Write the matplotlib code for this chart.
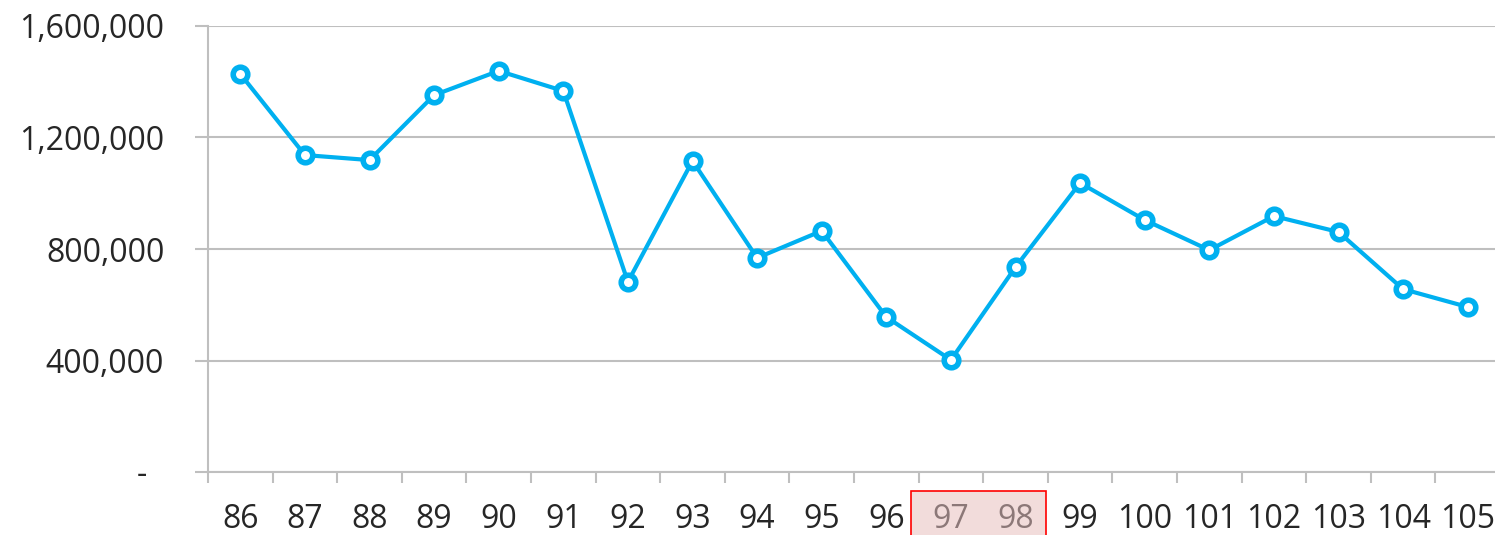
import matplotlib
matplotlib.use("Agg")
import matplotlib.pyplot as plt
from matplotlib.patches import Rectangle
from matplotlib.transforms import blended_transform_factory

categories = ["86", "87", "88", "89", "90", "91", "92", "93", "94", "95",
              "96", "97", "98", "99", "100", "101", "102", "103", "104", "105"]
values = [1428000, 1137000, 1119000, 1352000, 1439000, 1367000, 682000, 1116000,
          768000, 865000, 556000, 402000, 735000, 1037000, 904000, 796000,
          918000, 861000, 656000, 592000]
y_ticks = [0, 400000, 800000, 1200000, 1600000]
y_tick_labels = ["-  ", "400,000", "800,000", "1,200,000", "1,600,000"]
highlight = ["97", "98"]

plt.rcParams['font.family'] = ['Open Sans', 'DejaVu Sans']

fig = plt.figure(figsize=(14.95, 5.35), dpi=100)
W, H = 1495, 535
ax = fig.add_axes([208 / W, 63 / H, 1292 / W, 446 / H])

n = len(categories)
xs = list(range(n))
ax.plot(xs, values, color="#00b0f0", lw=3.0, marker="o", ms=10.5,
        mfc="white", mec="#00b0f0", mew=4.0, zorder=3, clip_on=False)

ax.set_xlim(-0.5, n - 0.5)
ax.set_ylim(0, 1600000)

grid_c = "#bfbfbf"
ax.set_yticks(y_ticks)
ax.set_yticklabels(y_tick_labels)
ax.yaxis.grid(True, color=grid_c, lw=1.5)
ax.set_axisbelow(True)

ax.set_xticks(xs)
ax.set_xticklabels(categories)
ax.set_xticks([i - 0.5 for i in range(n + 1)], minor=True)
ax.tick_params(axis="x", which="major", length=0, pad=22, labelsize=23, labelcolor="#262626")
ax.tick_params(axis="x", which="minor", length=8, width=1.5, color=grid_c)
ax.tick_params(axis="y", which="major", length=9.5, width=1.5, color=grid_c, pad=22,
               labelsize=23, labelcolor="#262626")

for s in ["top", "right"]:
    ax.spines[s].set_visible(False)
for s in ["left", "bottom"]:
    ax.spines[s].set_color(grid_c)
    ax.spines[s].set_linewidth(1.5)

for lbl in ax.get_xticklabels():
    if lbl.get_text() in highlight:
        lbl.set_color("#8c7878")

idx = [categories.index(h) for h in highlight]
trans = blended_transform_factory(ax.transData, ax.transAxes)
rect = Rectangle((min(idx) - 0.62, -0.2), (max(idx) - min(idx)) + 1.09, 0.157,
                 transform=trans, facecolor="#f2dcdb", edgecolor="#ff0000",
                 lw=1.2, clip_on=False, zorder=0)
ax.add_patch(rect)

fig.savefig("out.png", dpi=100)
